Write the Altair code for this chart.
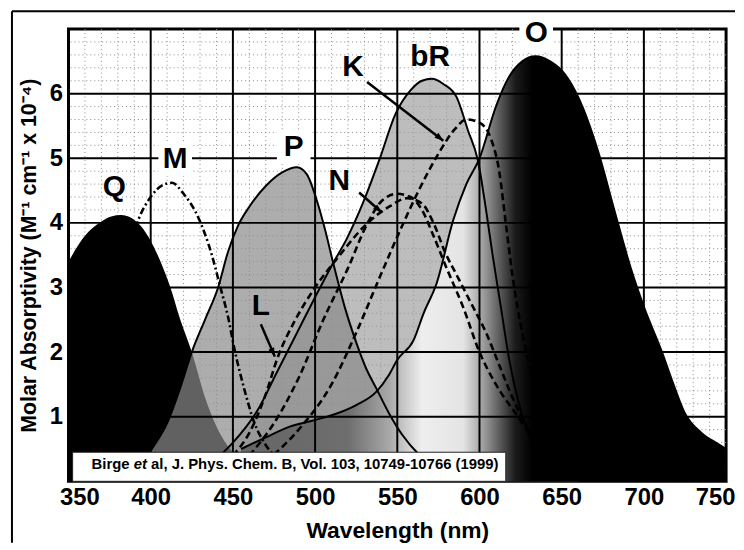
import altair as alt
import pandas as pd

# ---- absorption bands (wavelength nm, molar absorptivity x 10^-4) ----
q_nm = [350, 360, 370, 376, 382, 388, 394, 400, 406, 412, 418, 425, 433, 440, 450, 460, 470, 480, 500]
q_abs = [3.4, 3.8, 4.02, 4.1, 4.12, 4.08, 3.95, 3.72, 3.4, 3.0, 2.5, 2.0, 1.3, 0.85, 0.45, 0.25, 0.12, 0.05, 0.0]

m_nm = [365, 372, 380, 386, 393, 400, 407, 413, 420, 429, 437, 442, 447, 451, 457, 463, 469, 476, 485, 500]
m_abs = [1.0, 1.8, 2.8, 3.5, 4.08, 4.4, 4.58, 4.62, 4.45, 4.08, 3.52, 3.04, 2.55, 2.04, 1.42, 0.91, 0.6, 0.38, 0.2, 0.05]

p_nm = [395, 402, 410, 418, 425, 433, 441, 447, 453, 460, 470, 480, 489, 495, 501, 506, 511, 518, 525, 531, 537, 545, 553, 563, 575, 590]
p_abs = [0.3, 0.55, 0.9, 1.45, 2.0, 2.5, 3.0, 3.55, 3.95, 4.25, 4.57, 4.78, 4.86, 4.75, 4.35, 3.9, 3.38, 2.7, 2.15, 1.75, 1.45, 1.05, 0.72, 0.42, 0.2, 0.05]

br_nm = [440, 450, 465, 477, 489, 500, 511, 519, 529, 539, 549, 558, 565, 571, 578, 586, 593, 599, 604, 608, 613, 618, 624, 632, 645, 660]
br_abs = [0.35, 0.6, 1.1, 1.7, 2.3, 2.85, 3.38, 3.74, 4.3, 4.97, 5.69, 6.05, 6.2, 6.23, 6.15, 5.95, 5.43, 4.97, 4.2, 3.5, 2.7, 1.9, 1.2, 0.6, 0.2, 0.02]

o_nm = [455, 470, 485, 500, 511, 525, 537, 545, 550, 560, 566, 574, 584, 592, 600, 610, 618, 626, 634, 643, 652, 660, 672, 682, 692, 700, 711, 718, 725, 735, 745, 750]
o_abs = [0.5, 0.68, 0.85, 0.95, 1.03, 1.18, 1.38, 1.65, 1.88, 2.19, 2.6, 3.07, 4.04, 4.6, 5.0, 5.8, 6.26, 6.5, 6.58, 6.5, 6.3, 5.95, 5.12, 4.2, 3.3, 2.7, 2.0, 1.5, 1.05, 0.75, 0.58, 0.5]

k_nm = [470, 490, 510, 525, 540, 552, 563, 575, 585, 592, 600, 607, 612, 616, 620, 626, 634, 645, 660]
k_abs = [0.3, 0.8, 1.5, 2.3, 3.2, 3.9, 4.5, 5.07, 5.45, 5.6, 5.55, 5.3, 4.8, 4.0, 3.2, 2.3, 1.5, 0.8, 0.3]

l_nm = [450, 460, 470, 477, 488, 500, 515, 530, 545, 556, 565, 572, 579, 587, 595, 604, 612, 620, 630, 645]
l_abs = [0.4, 0.75, 1.35, 1.9, 2.5, 3.0, 3.5, 3.95, 4.25, 4.38, 4.3, 4.0, 3.55, 3.15, 2.75, 2.3, 1.8, 1.3, 0.8, 0.35]

n_nm = [460, 475, 490, 505, 520, 532, 541, 550, 558, 565, 572, 580, 590, 600, 610, 622, 635, 650]
n_abs = [0.4, 0.9, 1.6, 2.5, 3.3, 4.0, 4.35, 4.45, 4.4, 4.2, 3.8, 3.3, 2.7, 2.0, 1.5, 1.05, 0.6, 0.25]

# ---- axes / grid ----
x_ticks = [350, 400, 450, 500, 550, 600, 650, 700, 750]
y_ticks = [1, 2, 3, 4, 5, 6]
major_x = [400, 450, 500, 550, 600, 650, 700]
major_y = [1, 2, 3, 4, 5, 6]
minor_x = [360, 370, 380, 390, 410, 420, 430, 440, 460, 470, 480, 490, 510, 520, 530, 540,
           560, 570, 580, 590, 610, 620, 630, 640, 660, 670, 680, 690, 710, 720, 730, 740]
minor_y = [0.2, 0.4, 0.6, 0.8, 1.2, 1.4, 1.6, 1.8, 2.2, 2.4, 2.6, 2.8, 3.2, 3.4, 3.6, 3.8,
           4.2, 4.4, 4.6, 4.8, 5.2, 5.4, 5.6, 5.8, 6.2, 6.4, 6.6, 6.8]

# ---- annotations ----
label_names = ["Q", "M", "P", "N", "K", "bR", "O", "L"]
label_nm = [377.8, 414.9, 487.0, 514.7, 523.0, 570.0, 634.5, 467.0]
label_abs = [4.55, 4.98, 5.17, 4.64, 6.41, 6.57, 6.93, 2.72]
boxed_labels = ["M", "P", "O"]

arrow_nm = [531.6, 526.8, 467.0]
arrow_abs = [6.18, 4.47, 2.43]
arrow_nm2 = [578.0, 540.6, 475.5]
arrow_abs2 = [5.27, 4.16, 1.93]
arrow_angle = [129, 131, 156]

cite_box_nm = [352.5, 616.0]
cite_box_abs = [0.0, 0.45]
cite_nm = 364.0
cite_abs = 0.27
cite_parts = ["Birge", "et", "al, J. Phys. Chem. B, Vol. 103,  10749-10766 (1999)"]

W, H = 663, 456
FONT = "Liberation Sans"


def X(field="nm"):
    return alt.X(f"{field}:Q", scale=alt.Scale(domain=[350, 750], nice=False, zero=False),
                 axis=alt.Axis(values=x_ticks, title="Wavelength (nm)", labelFontSize=24,
                               labelFont=FONT, titleFont=FONT, titleFontSize=23,
                               labelFontWeight="bold", titleFontWeight="bold",
                               ticks=False, domain=False, grid=False,
                               labelPadding=4, titlePadding=11, labelFlush=True,
                               labelFlushOffset=9, labelColor="black", titleColor="black"))


def Y(field="a"):
    return alt.Y(f"{field}:Q", scale=alt.Scale(domain=[0, 7], nice=False, zero=False),
                 axis=alt.Axis(values=y_ticks, title="Molar Absorptivity (M⁻¹ cm⁻¹ x 10⁻⁴)",
                               labelFontSize=24, labelFont=FONT, titleFont=FONT,
                               labelFontWeight="bold", titleFontWeight="bold",
                               titleFontSize=21.5, ticks=False,
                               domain=False, grid=False, labelPadding=6, titlePadding=9,
                               labelColor="black", titleColor="black"))


def curve(nm, ab):
    return pd.DataFrame({"nm": nm, "a": ab})


dq, dm, dp = curve(q_nm, q_abs), curve(m_nm, m_abs), curve(p_nm, p_abs)
dbr, do = curve(br_nm, br_abs), curve(o_nm, o_abs)
dk, dl, dn = curve(k_nm, k_abs), curve(l_nm, l_abs), curve(n_nm, n_abs)

minor_xg = alt.Chart(pd.DataFrame({"nm": minor_x})).mark_rule(
    color="#8a8a8a", strokeWidth=1, strokeDash=[1, 3]).encode(x=X())
minor_yg = alt.Chart(pd.DataFrame({"a": minor_y})).mark_rule(
    color="#8a8a8a", strokeWidth=1, strokeDash=[1, 3]).encode(y=Y())

o_grad = alt.Gradient(
    gradient="linear", x1=0, x2=1, y1=0, y2=0,
    stops=[alt.GradientStop(color="#666666", offset=0),
           alt.GradientStop(color="#6e6e6e", offset=0.22),
           alt.GradientStop(color="#a8a8a8", offset=0.305),
           alt.GradientStop(color="#eeeeee", offset=0.373),
           alt.GradientStop(color="#e4e4e4", offset=0.458),
           alt.GradientStop(color="#999999", offset=0.502),
           alt.GradientStop(color="#555555", offset=0.536),
           alt.GradientStop(color="#1a1a1a", offset=0.566),
           alt.GradientStop(color="#000000", offset=0.60),
           alt.GradientStop(color="#000000", offset=1)])

area_br = alt.Chart(dbr).mark_area(color="#999999", opacity=0.65, interpolate="monotone").encode(x=X(), y=Y())
area_q = alt.Chart(dq).mark_area(color="black", interpolate="monotone").encode(x=X(), y=Y())
area_p = alt.Chart(dp).mark_area(color="#8a8a8a", opacity=0.7, interpolate="monotone").encode(x=X(), y=Y())
area_o = alt.Chart(do).mark_area(color=o_grad, opacity=1, interpolate="monotone").encode(x=X(), y=Y())

major_xg = alt.Chart(pd.DataFrame({"nm": major_x})).mark_rule(color="black", strokeWidth=2).encode(x=X())
major_yg = alt.Chart(pd.DataFrame({"a": major_y})).mark_rule(color="black", strokeWidth=2).encode(y=Y())


def solid(df):
    return alt.Chart(df).mark_line(color="black", strokeWidth=2, interpolate="monotone").encode(x=X(), y=Y())


def dashed(df, dash):
    return alt.Chart(df).mark_line(color="black", strokeWidth=2.6, strokeDash=dash,
                                   interpolate="monotone").encode(x=X(), y=Y())


line_p, line_br, line_o = solid(dp), solid(dbr), solid(do)
line_k, line_l, line_n = dashed(dk, [7, 4]), dashed(dl, [7, 4]), dashed(dn, [7, 4])
line_m = dashed(dm, [7, 3, 2, 3])

arrows = pd.DataFrame({"nm": arrow_nm, "a": arrow_abs, "nm2": arrow_nm2, "a2": arrow_abs2,
                       "ang": arrow_angle})
arrow_shaft = alt.Chart(arrows).mark_rule(color="black", strokeWidth=2.5).encode(
    x=X(), y=Y(), x2="nm2:Q", y2="a2:Q")
arrow_head = alt.Chart(arrows).mark_point(
    shape="M0,0L0.6,1.7L-0.6,1.7Z", filled=True, color="black", opacity=1, size=110).encode(
    x=X("nm2"), y=Y("a2"), angle=alt.Angle("ang:Q", scale=None))

cite_box = alt.Chart(pd.DataFrame({"nm": [cite_box_nm[0]], "nm2": [cite_box_nm[1]],
                                   "a": [cite_box_abs[0]], "a2": [cite_box_abs[1]]})).mark_rect(
    color="white", stroke="#222", strokeWidth=1).encode(x=X(), x2="nm2:Q", y=Y(), y2="a2:Q")
cite_df = pd.DataFrame({"nm": [cite_nm], "a": [cite_abs]})
cite1 = alt.Chart(cite_df).mark_text(text=cite_parts[0], font=FONT, fontSize=15, fontWeight="bold",
                                     align="left", baseline="middle", color="black").encode(x=X(), y=Y())
cite2 = alt.Chart(cite_df).mark_text(text=cite_parts[1], font=FONT, fontSize=15, fontWeight="bold",
                                     fontStyle="italic", align="left", baseline="middle", dx=42.5,
                                     color="black").encode(x=X(), y=Y())
cite3 = alt.Chart(cite_df).mark_text(text=cite_parts[2], font=FONT, fontSize=15, fontWeight="bold",
                                     align="left", baseline="middle", dx=60,
                                     color="black").encode(x=X(), y=Y())

labels = pd.DataFrame({"name": label_names, "nm": label_nm, "a": label_abs})
label_box = alt.Chart(labels).transform_filter(
    alt.FieldOneOfPredicate(field="name", oneOf=boxed_labels)).mark_square(
    color="white", opacity=1, size=1150).encode(x=X(), y=Y())
label_text = alt.Chart(labels).mark_text(font=FONT, fontSize=30, fontWeight="bold", align="center",
                                         baseline="middle", color="black").encode(
    x=X(), y=Y(), text="name:N")

frame_top = alt.Chart(pd.DataFrame({"v": [0]})).mark_rule(color="black", strokeWidth=2).encode(
    x=alt.value(-57), x2=alt.value(W + 9), y=alt.value(-18))
frame_left = alt.Chart(pd.DataFrame({"v": [0]})).mark_rule(color="black", strokeWidth=2).encode(
    x=alt.value(-57), y=alt.value(-18), y2=alt.value(H + 62))

chart = alt.layer(
    minor_xg, minor_yg,
    area_br, area_q, area_p, area_o,
    major_xg, major_yg,
    line_p, line_br, line_o,
    line_k, line_l, line_n, line_m,
    arrow_shaft, arrow_head,
    cite_box, cite1, cite2, cite3,
    label_box, label_text,
    frame_top, frame_left,
).properties(
    width=W, height=H,
    padding={"left": 3, "top": 0, "right": 0, "bottom": 0},
    background="white",
).configure_view(stroke="black", strokeWidth=3)

chart.save("out.html", embed_options={"renderer": "svg", "actions": False})
